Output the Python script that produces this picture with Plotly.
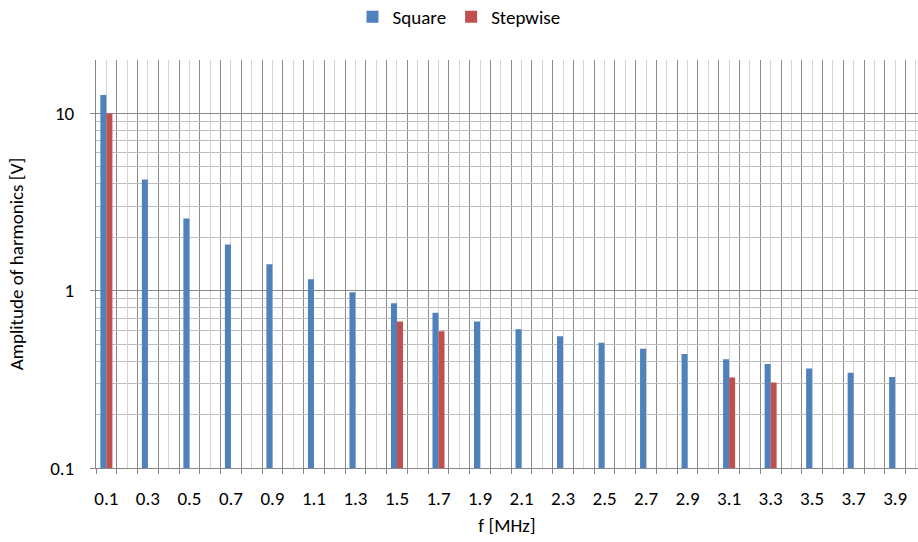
import plotly.graph_objects as go

freq = [0.1, 0.2, 0.3, 0.4, 0.5, 0.6, 0.7, 0.8, 0.9, 1.0,
        1.1, 1.2, 1.3, 1.4, 1.5, 1.6, 1.7, 1.8, 1.9, 2.0,
        2.1, 2.2, 2.3, 2.4, 2.5, 2.6, 2.7, 2.8, 2.9, 3.0,
        3.1, 3.2, 3.3, 3.4, 3.5, 3.6, 3.7, 3.8, 3.9, 4.0]
square = [12.7, None, 4.24, None, 2.55, None, 1.82, None, 1.41, None,
          1.16, None, 0.98, None, 0.85, None, 0.75, None, 0.67, None,
          0.606, None, 0.553, None, 0.509, None, 0.471, None, 0.439, None,
          0.411, None, 0.386, None, 0.364, None, 0.344, None, 0.326, None]
stepwise = [10.0, None, None, None, None, None, None, None, None, None,
            None, None, None, None, 0.67, None, 0.59, None, None, None,
            None, None, None, None, None, None, None, None, None, None,
            0.324, None, 0.304, None, None, None, None, None, None, None]
tick_labels = ["0.1", "0.3", "0.5", "0.7", "0.9", "1.1", "1.3", "1.5", "1.7", "1.9",
               "2.1", "2.3", "2.5", "2.7", "2.9", "3.1", "3.3", "3.5", "3.7", "3.9"]
y_ticks = [0.1, 1, 10]
y_minor = [0.2, 0.3, 0.4, 0.5, 0.6, 0.7, 0.8, 0.9,
           2, 3, 4, 5, 6, 7, 8, 9, 20]

font_family = "Calibri, Carlito, Lato, sans-serif"

ticktext = [f"{f:.1f}" if f"{f:.1f}" in tick_labels else "" for f in freq]
boundaries = [round(f - 0.05, 2) for f in freq] + [round(freq[-1] + 0.05, 2)]

fig = go.Figure()
fig.add_trace(go.Bar(x=freq, y=square, name="Square", marker_color="#4F81BD",
                     marker_line_width=0))
fig.add_trace(go.Bar(x=freq, y=stepwise, name="Stepwise", marker_color="#C0504D",
                     marker_line_width=0))

fig.update_layout(
    width=918, height=542,
    margin=dict(l=96, r=0, t=60, b=74, autoexpand=False),
    plot_bgcolor="white", paper_bgcolor="white",
    barmode="group", bargap=0.42, bargroupgap=0,
    font=dict(family=font_family, size=19, color="#000000"),
    legend=dict(orientation="h", xref="container", x=0.5, xanchor="center",
                yref="paper", y=1.152, yanchor="top",
                font=dict(size=19), itemwidth=30, traceorder="normal"),
    showlegend=True,
)
fig.update_xaxes(
    type="linear", range=[0.05, 4.01],
    tickmode="array", tickvals=freq, ticktext=ticktext,
    ticks="", showgrid=True, gridcolor="#d4d4d4", gridwidth=1,
    showline=True, linecolor="#868686", linewidth=1,
    ticklabelstandoff=13,
    minor=dict(tickmode="array", tickvals=boundaries, ticks="outside",
               ticklen=5, tickcolor="#868686", showgrid=True,
               gridcolor="#8a8a8a", gridwidth=1),
    title=dict(text="f [MHz]", font=dict(size=19), standoff=9),
    zeroline=False,
)
fig.update_yaxes(
    type="log", range=[-1, 1.3012],
    tickmode="array", tickvals=y_ticks, ticktext=["0.1", "1", "10"],
    ticks="outside", ticklen=5, tickcolor="#868686",
    showgrid=True, gridcolor="#8a8a8a", gridwidth=1,
    showline=True, linecolor="#868686", linewidth=1,
    ticklabelstandoff=12,
    minor=dict(tickmode="array", tickvals=y_minor, ticks="",
               showgrid=True, gridcolor="#bdbdbd", gridwidth=1),
    title=dict(text="Amplitude of harmonics [V]", font=dict(size=19), standoff=21),
    zeroline=False,
)

fig.write_html("out.html", config={"displayModeBar": False},
               post_script="document.body.style.margin='0';document.body.style.overflow='hidden';")
